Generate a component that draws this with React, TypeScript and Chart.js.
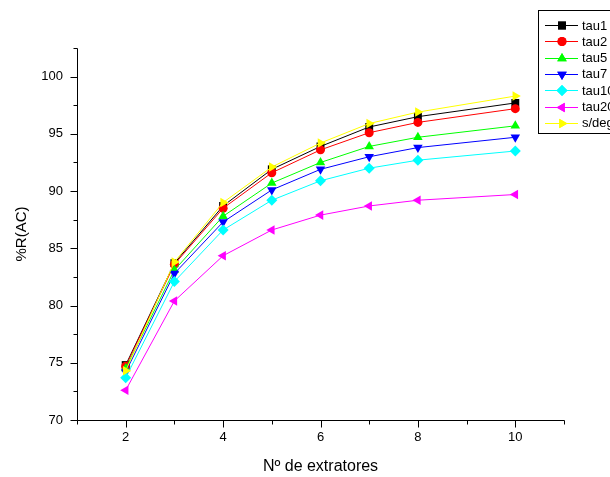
import { useEffect, useRef } from "react";
import { Chart, registerables } from "chart.js";
import { drawPoint } from "chart.js/helpers";

Chart.register(...registerables);

const extractors = [2, 3, 4, 5, 6, 7, 8, 10];
const seriesNames = ["tau1", "tau2", "tau5", "tau7", "tau10", "tau20", "s/deg"];
const tau1 = [74.8, 83.7, 88.7, 91.9, 93.9, 95.6, 96.5, 97.7];
const tau2 = [74.7, 83.6, 88.5, 91.6, 93.6, 95.1, 96.0, 97.2];
const tau5 = [74.5, 83.1, 87.8, 90.7, 92.5, 93.9, 94.7, 95.7];
const tau7 = [74.2, 82.8, 87.3, 90.1, 91.9, 93.0, 93.8, 94.7];
const tau10 = [73.7, 82.1, 86.6, 89.2, 90.9, 92.0, 92.7, 93.5];
const tau20 = [72.6, 80.4, 84.35, 86.6, 87.9, 88.7, 89.2, 89.7];
const sdeg = [74.3, 83.8, 89.0, 92.1, 94.2, 95.9, 96.9, 98.3];
const seriesValues = [tau1, tau2, tau5, tau7, tau10, tau20, sdeg];
const seriesColors = ["#000000", "#ff0000", "#00ff00", "#0000ff", "#00ffff", "#ff00ff", "#ffff00"];
const seriesStyles = ["rect", "circle", "triangle", "triangle", "rectRot", "triangle", "triangle"];
const seriesRotation = [0, 0, 0, 180, 0, 270, 90];
const seriesRadius = [5.6, 4.5, 5.5, 5.5, 5.5, 5.5, 5.5];
const xLabeled = [2, 4, 6, 8, 10];
const yLabeled = [70, 75, 80, 85, 90, 95, 100];
const xRange = [1, 11];
const yRange = [70, 102.5];
const yMinorStep = 2.5;
const xMinorStep = 1;

const FONT = "'Liberation Sans', Arial, Helvetica, sans-serif";

const axesPlugin = {
  id: "originAxes",
  afterDraw(chart: any) {
    const { ctx, chartArea } = chart;
    const x = chart.scales.x;
    const y = chart.scales.y;
    ctx.save();
    ctx.strokeStyle = "#000";
    ctx.lineWidth = 1;
    const L = Math.round(chartArea.left) + 0.5;
    const B = Math.round(chartArea.bottom) + 0.5;
    ctx.beginPath();
    ctx.moveTo(L, Math.round(chartArea.top) + 0.5);
    ctx.lineTo(L, B);
    ctx.lineTo(Math.round(chartArea.right) + 0.5, B);
    for (let v = yRange[0]; v <= yRange[1] + 1e-9; v += yMinorStep) {
      const py = Math.round(y.getPixelForValue(v)) + 0.5;
      const len = yLabeled.includes(v) ? 7 : 4;
      ctx.moveTo(L - len, py);
      ctx.lineTo(L, py);
    }
    for (let v = xRange[0]; v <= xRange[1] + 1e-9; v += xMinorStep) {
      const px = Math.round(x.getPixelForValue(v)) + 0.5;
      const len = xLabeled.includes(v) ? 7 : 4;
      ctx.moveTo(px, B);
      ctx.lineTo(px, B + len);
    }
    ctx.stroke();

    // legend box
    const bx = 538.5, by = 10.5;
    ctx.strokeRect(bx, by, 120, 123);
    ctx.font = "13px " + FONT;
    ctx.textBaseline = "middle";
    ctx.textAlign = "left";
    seriesNames.forEach((name, i) => {
      const ry = 25 + i * 16.3;
      ctx.strokeStyle = seriesColors[i];
      ctx.lineWidth = 1;
      ctx.beginPath();
      ctx.moveTo(545, Math.round(ry) + 0.5);
      ctx.lineTo(578, Math.round(ry) + 0.5);
      ctx.stroke();
      ctx.fillStyle = seriesColors[i];
      drawPoint(
        ctx,
        {
          pointStyle: seriesStyles[i],
          radius: seriesRadius[i],
          rotation: seriesRotation[i],
          borderWidth: 0,
        } as any,
        562,
        Math.round(ry) + 0.5
      );
      ctx.fill();
      ctx.fillStyle = "#000";
      ctx.fillText(name, 582, ry + 1);
    });
    ctx.restore();
  },
};

export default function App() {
  const ref = useRef<HTMLCanvasElement | null>(null);
  useEffect(() => {
    if (!ref.current) return;
    Chart.defaults.font.family = FONT;
    Chart.defaults.color = "#000";
    const datasets = seriesNames.map((name, i) => ({
      label: name,
      data: extractors.map((e, j) => ({ x: e, y: seriesValues[i][j] })),
      borderColor: seriesColors[i],
      backgroundColor: seriesColors[i],
      borderWidth: 1,
      pointStyle: seriesStyles[i] as any,
      pointRotation: seriesRotation[i],
      pointRadius: seriesRadius[i],
      pointBorderWidth: 0,
      pointBackgroundColor: seriesColors[i],
      pointBorderColor: seriesColors[i],
      tension: 0,
      order: seriesNames.length - i,
    }));
    const chart = new Chart(ref.current, {
      type: "line",
      data: { datasets },
      plugins: [axesPlugin],
      options: {
        animation: false,
        responsive: false,
        devicePixelRatio: 1,
        layout: { padding: { top: 48, right: 46, left: 0, bottom: 0 } },
        plugins: { legend: { display: false }, tooltip: { enabled: false } },
        scales: {
          x: {
            type: "linear",
            min: xRange[0],
            max: xRange[1],
            grid: { display: false, drawTicks: false },
            border: { display: false },
            ticks: {
              stepSize: 1,
              padding: 10,
              font: { size: 13, family: FONT },
              color: "#000",
              maxRotation: 0,
              autoSkip: false,
              callback: (v: any) => (xLabeled.includes(Number(v)) ? String(v) : ""),
            },
            title: {
              display: true,
              text: "Nº de extratores",
              font: { size: 16, family: FONT },
              color: "#000",
              padding: { top: 0, bottom: 1 },
            },
            afterFit: (s: any) => {
              s.height = 57;
            },
          },
          y: {
            type: "linear",
            min: yRange[0],
            max: yRange[1],
            grid: { display: false, drawTicks: false },
            border: { display: false },
            ticks: {
              stepSize: 5,
              includeBounds: false,
              padding: 14,
              font: { size: 13, family: FONT },
              color: "#000",
              autoSkip: false,
              callback: (v: any) => (yLabeled.includes(Number(v)) ? String(v) : ""),
            },
            title: {
              display: true,
              text: "%R(AC)",
              font: { size: 15, family: FONT },
              color: "#000",
              padding: { top: 13, bottom: 0 },
            },
            afterFit: (s: any) => {
              s.width = 77;
            },
          },
        },
      },
    });
    return () => chart.destroy();
  }, []);
  return (
    <div style={{ position: "absolute", left: 0, top: 0, width: 610, height: 477, background: "#fff" }}>
      <canvas ref={ref} width={610} height={477} style={{ display: "block" }} />
    </div>
  );
}
